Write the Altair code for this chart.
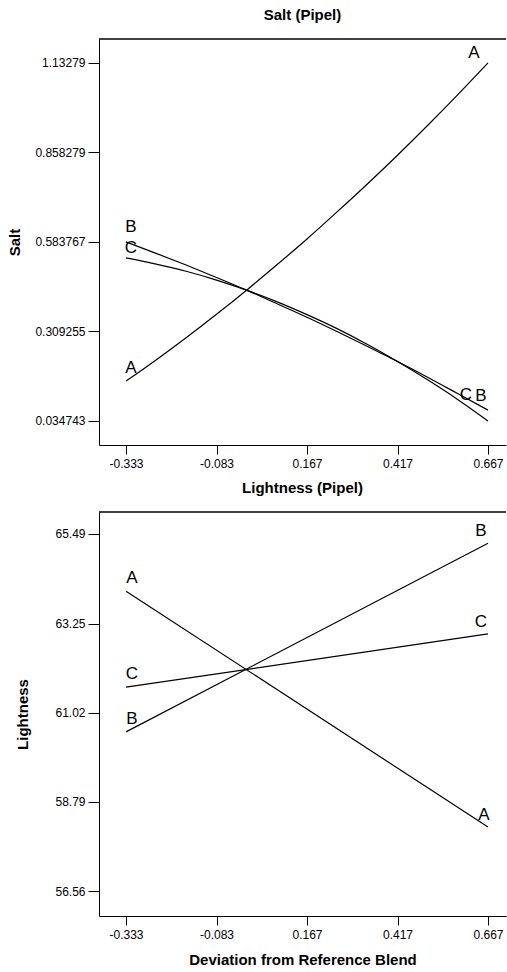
import altair as alt
import pandas as pd

FONT = "Liberation Sans"

# ---- data ----
x_grid = [-0.333, -0.25, -0.167, -0.083, 0.0, 0.083, 0.167, 0.25, 0.333, 0.417, 0.5, 0.583, 0.667]
salt_A = [0.157, 0.222, 0.290, 0.362, 0.436, 0.513, 0.593, 0.676, 0.761, 0.850, 0.941, 1.035, 1.133]
salt_B = [0.584, 0.549, 0.513, 0.475, 0.436, 0.395, 0.353, 0.309, 0.264, 0.217, 0.169, 0.119, 0.068]
salt_C = [0.535, 0.516, 0.494, 0.467, 0.436, 0.401, 0.361, 0.318, 0.270, 0.217, 0.161, 0.101, 0.035]

light_x = [-0.333, 0.667]
light_A = [64.06, 58.16]
light_B = [60.54, 65.26]
light_C = [61.66, 62.99]

x_ticks = [-0.333, -0.083, 0.167, 0.417, 0.667]
salt_ticks = [0.034743, 0.309255, 0.583767, 0.858279, 1.13279]
light_ticks = [56.56, 58.79, 61.02, 63.25, 65.49]

# ---- layout ----
W = 407
H_TOP = 406
H_BOT = 404
X_DOMAIN = [-0.4076, 0.7167]
SALT_DOMAIN = [-0.0389, 1.2064]
LIGHT_DOMAIN = [55.935, 66.04]
LABEL_SIZE = 17


def long_df(xs, series):
    rows = []
    for name, ys in series.items():
        for xv, yv in zip(xs, ys):
            rows.append({"series": name, "x": xv, "y": yv})
    return pd.DataFrame(rows)


def panel(df, ydomain, yticks, ytitle, ytitle_pad, xtitle, height, title, labels):
    xs = alt.Scale(domain=X_DOMAIN, nice=False, zero=False)
    ys = alt.Scale(domain=ydomain, nice=False, zero=False)
    if xtitle:
        x_axis = alt.Axis(values=x_ticks, labelExpr="'' + datum.value", grid=False,
                          tickSize=9, labelPadding=4, title=xtitle, titlePadding=12)
    else:
        x_axis = alt.Axis(values=x_ticks, labelExpr="'' + datum.value", grid=False,
                          tickSize=9, labelPadding=4, title=None)
    y_axis = alt.Axis(values=yticks, labelExpr="'' + datum.value", grid=False,
                      tickSize=11, labelPadding=3, title=ytitle, titlePadding=ytitle_pad)
    lines = alt.Chart(df).mark_line(color="black", strokeWidth=1.2, interpolate="monotone").encode(
        x=alt.X("x:Q", scale=xs, axis=x_axis),
        y=alt.Y("y:Q", scale=ys, axis=y_axis),
        detail="series:N",
    )
    layers = [lines]
    for (names, lx, ly, dx, dy) in labels:
        ldf = pd.DataFrame({"label": names, "x": lx, "y": ly})
        layers.append(
            alt.Chart(ldf).mark_text(
                font=FONT, fontSize=LABEL_SIZE, color="black", dx=dx, dy=dy,
                align="center", baseline="middle",
            ).encode(
                x=alt.X("x:Q", scale=xs, axis=x_axis),
                y=alt.Y("y:Q", scale=ys, axis=y_axis),
                text="label:N",
            )
        )
    top_rule = alt.Chart(pd.DataFrame({"v": [0]})).mark_rule(color="black", strokeWidth=1.3).encode(
        x=alt.value(0), x2=alt.value(W), y=alt.value(0)
    )
    layers.append(top_rule)
    return alt.layer(*layers).properties(
        width=W, height=height,
        title=alt.TitleParams(title, font=FONT, fontSize=15, fontWeight="bold",
                              baseline="alphabetic", offset=3, anchor="middle"),
    )


salt_df = long_df(x_grid, {"A": salt_A, "B": salt_B, "C": salt_C})
light_df = long_df(light_x, {"A": light_A, "B": light_B, "C": light_C})

salt_labels = [
    (["A"], [x_grid[0]], [salt_A[0]], 5, -13),
    (["B"], [x_grid[0]], [salt_B[0]], 5, -15),
    (["C"], [x_grid[0]], [salt_C[0]], 5, -10),
    (["A"], [x_grid[-1]], [salt_A[-1]], -14, -10),
    (["B"], [x_grid[-1]], [salt_B[-1]], -7, -14),
    (["C"], [x_grid[-1]], [salt_C[-1]], -22, -26),
]
light_labels = [
    (["A", "B", "C"], [light_x[0]] * 3, [light_A[0], light_B[0], light_C[0]], 6, -13),
    (["A"], [light_x[-1]], [light_A[-1]], -4, -12),
    (["B", "C"], [light_x[-1]] * 2, [light_B[-1], light_C[-1]], -7, -12),
]

top = panel(salt_df, SALT_DOMAIN, salt_ticks, "Salt", 12, None, H_TOP, "Salt (Pipel)", salt_labels)
bottom = panel(light_df, LIGHT_DOMAIN, light_ticks, "Lightness", 24, "Deviation from Reference Blend",
               H_BOT, "Lightness  (Pipel)", light_labels)

chart = alt.vconcat(top, bottom, spacing=12).properties(
    padding={"left": 7, "top": 8, "right": 0, "bottom": 2},
    background="white",
).configure_view(stroke=None).configure_axis(
    labelFont=FONT, labelFontSize=12, labelColor="black",
    titleFont=FONT, titleFontSize=15, titleFontWeight="bold", titleColor="black",
    domainColor="black", domainWidth=1, tickColor="black", tickWidth=1,
)

chart.save("out.html", embed_options={"renderer": "svg", "actions": False})
